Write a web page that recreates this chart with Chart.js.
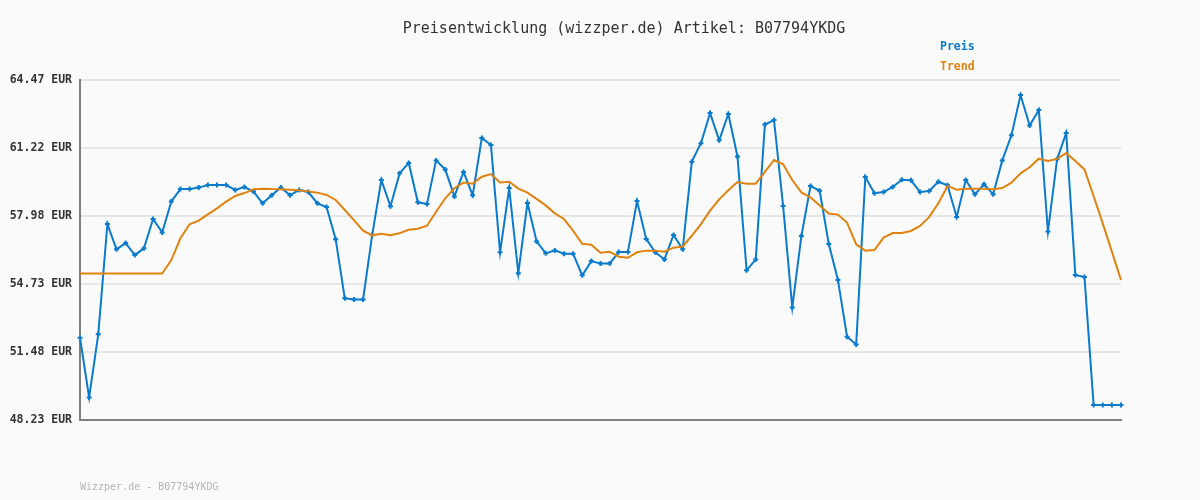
<!DOCTYPE html>
<html>
<head>
<meta charset="utf-8">
<script src="https://cdn.jsdelivr.net/npm/chart.js@4/dist/chart.umd.min.js"></script>
<style>
  html, body { margin: 0; padding: 0; background: #fafafa; }
  #wrap { width: 1200px; height: 500px; }
</style>
</head>
<body>
<div id="wrap"><canvas id="chart" width="1200" height="500"></canvas></div>
<script>
// price readings, one per day
const price = [
  52.16, 49.31, 52.32, 57.59, 56.38, 56.68, 56.11, 56.43, 57.83, 57.19,
  58.67, 59.26, 59.26, 59.33, 59.45, 59.45, 59.45, 59.22, 59.36, 59.14,
  58.58, 58.96, 59.34, 58.96, 59.22, 59.12, 58.58, 58.40, 56.86, 54.04,
  53.99, 53.99, 57.07, 59.69, 58.44, 60.01, 60.51, 58.63, 58.55, 60.63,
  60.19, 58.91, 60.08, 58.96, 61.70, 61.37, 56.24, 59.31, 55.24, 58.60,
  56.76, 56.19, 56.33, 56.17, 56.17, 55.14, 55.82, 55.70, 55.70, 56.25,
  56.25, 58.69, 56.88, 56.24, 55.90, 57.07, 56.38, 60.57, 61.45, 62.89,
  61.59, 62.85, 60.82, 55.38, 55.90, 62.34, 62.56, 58.45, 53.60, 57.02,
  59.41, 59.18, 56.64, 54.92, 52.21, 51.84, 59.84, 59.06, 59.12, 59.36,
  59.71, 59.68, 59.12, 59.17, 59.61, 59.44, 57.93, 59.69, 59.01, 59.49,
  59.01, 60.63, 61.83, 63.75, 62.30, 63.04, 57.23, 60.68, 61.94, 55.16,
  55.06, 48.95, 48.95, 48.95, 48.95
];

// trend line readings
const trend = [
  55.23, 55.23, 55.23, 55.23, 55.23, 55.23, 55.23, 55.23, 55.23, 55.23,
  55.87, 56.91, 57.58, 57.75, 58.05, 58.34, 58.66, 58.93, 59.07, 59.25,
  59.28, 59.26, 59.25, 59.23, 59.20, 59.15, 59.09, 58.98, 58.74, 58.26,
  57.78, 57.27, 57.05, 57.13, 57.05, 57.15, 57.32, 57.37, 57.51, 58.18,
  58.82, 59.30, 59.57, 59.52, 59.85, 59.98, 59.57, 59.61, 59.28, 59.09,
  58.79, 58.48, 58.10, 57.83, 57.27, 56.65, 56.60, 56.22, 56.27, 56.03,
  55.98, 56.24, 56.32, 56.32, 56.27, 56.46, 56.52, 57.03, 57.59, 58.23,
  58.77, 59.20, 59.60, 59.52, 59.52, 60.08, 60.65, 60.44, 59.69, 59.10,
  58.87, 58.48, 58.09, 58.04, 57.66, 56.62, 56.32, 56.35, 56.94, 57.16,
  57.16, 57.26, 57.50, 57.93, 58.58, 59.41, 59.23, 59.28, 59.28, 59.28,
  59.25, 59.31, 59.57, 60.01, 60.30, 60.71, 60.60, 60.70, 60.98, 60.60,
  60.20, 58.93, 57.62, 56.27, 54.92
];

const yTicks = [48.23, 51.48, 54.73, 57.98, 61.22, 64.47];
const days = price.map((_, i) => String(i + 1));

const blue = "#0a7bcb";
const orange = "#e0820f";
const mono = "'DejaVu Sans Mono', 'Liberation Mono', monospace";

// title, legend and footer text drawn straight on the canvas
const textPlugin = {
  id: "texts",
  afterDraw(chart) {
    const ctx = chart.ctx;
    ctx.save();
    ctx.textBaseline = "middle";

    ctx.fillStyle = "#333333";
    ctx.font = "15px " + mono;
    ctx.textAlign = "center";
    ctx.fillText("Preisentwicklung (wizzper.de) Artikel: B07794YKDG", 624, 29);

    ctx.textAlign = "left";
    ctx.font = "bold 11.5px " + mono;
    ctx.fillStyle = blue;
    ctx.fillText("Preis", 940, 47);
    ctx.fillStyle = orange;
    ctx.fillText("Trend", 940, 67);

    ctx.font = "10px " + mono;
    ctx.fillStyle = "#b4b4b4";
    ctx.fillText("Wizzper.de - B07794YKDG", 80, 487);
    ctx.restore();
  },
};

new Chart(document.getElementById("chart"), {
  type: "line",
  data: {
    labels: days,
    datasets: [
      {
        label: "Trend",
        data: trend,
        borderColor: orange,
        borderWidth: 2,
        pointRadius: 0,
        tension: 0,
        order: 0,
        clip: false,
      },
      {
        label: "Preis",
        data: price,
        borderColor: blue,
        backgroundColor: blue,
        borderWidth: 2,
        pointStyle: "cross",
        pointRadius: 2.5,
        pointBorderWidth: 2,
        pointBorderColor: blue,
        tension: 0,
        order: 1,
        clip: false,
      },
    ],
  },
  options: {
    responsive: false,
    animation: false,
    layout: { padding: { top: 80, right: 79, bottom: 80, left: 0 } },
    plugins: {
      legend: { display: false },
      title: { display: false },
      tooltip: { enabled: false },
    },
    scales: {
      x: {
        type: "category",
        offset: false,
        ticks: { display: false },
        grid: { display: false, drawTicks: false },
        border: { display: true, color: "#808080", width: 2 },
        afterFit(scale) { scale.height = 0; },
      },
      y: {
        min: 48.23,
        max: 64.47,
        afterBuildTicks(scale) {
          scale.ticks = yTicks.map((v) => ({ value: v }));
        },
        afterFit(scale) { scale.width = 80; },
        ticks: {
          padding: 8,
          color: "#333333",
          font: { family: mono, size: 11.5, weight: "bold" },
          callback: (v) => v.toFixed(2) + " EUR",
        },
        grid: {
          color: "#e6e6e6",
          lineWidth: 2,
          drawTicks: false,
        },
        border: { display: true, color: "#808080", width: 2 },
      },
    },
  },
  plugins: [textPlugin],
});
</script>
</body>
</html>
